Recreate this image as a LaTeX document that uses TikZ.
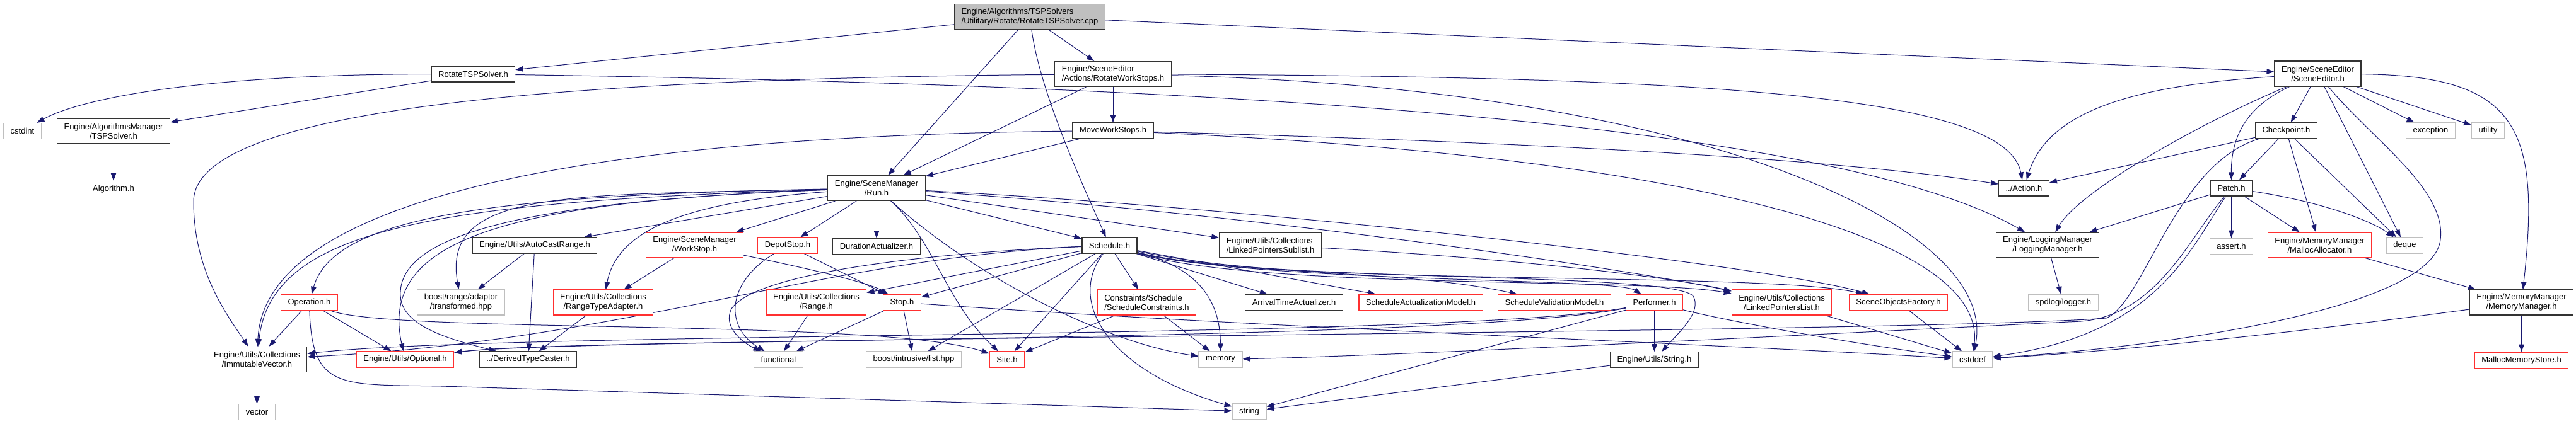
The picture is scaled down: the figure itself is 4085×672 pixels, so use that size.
\documentclass[tikz,border=0pt]{standalone}
\usepackage{fontspec}
\usepackage{xcolor}
\usepackage{tikz}
\usetikzlibrary{arrows.meta,positioning,backgrounds}
\newfontfamily\dxsans{Liberation Sans}
\newcommand{\dxfont}{\dxsans\fontsize{13pt}{15pt}\selectfont}
\definecolor{incl}{HTML}{191970}
\definecolor{nline}{HTML}{333333}
\definecolor{trunc}{HTML}{FF3030}
\definecolor{ext}{HTML}{BFBFBF}
\definecolor{rootf}{HTML}{BFBFBF}
\tikzset{
  hfile/.style={draw=nline, line width=1.2pt, fill=white, rectangle,
                minimum height=25pt, inner xsep=11pt, inner ysep=3pt,
                align=center, font=\dxfont},
  hred/.style={hfile, draw=trunc},
  hsys/.style={hfile, draw=ext},
  hroot/.style={hfile, fill=rootf},
  two/.style={minimum height=40pt},
  lft/.style={align=left},
  inc/.style={-{Triangle[length=12pt,width=8.5pt]}, line width=1pt, draw=incl},
}
\begin{document}
\begin{tikzpicture}[x=1pt, y=-1pt, node distance=58pt]
\useasboundingbox (0,0) rectangle (4085,672);

% ---- the .cpp ----
\node[hroot, two, lft] (root) at (1633,26.5) {Engine/Algorithms/TSPSolvers\\/Utilitary/Rotate/RotateTSPSolver.cpp};

% ---- row 1 ----
\node[hfile] (rtsp) at (750.5,117.5) {RotateTSPSolver.h};
\node[hfile, two, lft] (rws) at (1765,117.5) {Engine/SceneEditor\\/Actions/RotateWorkStops.h};
\node[hfile, two] (sed) at (3675.5,117) {Engine/SceneEditor\\/SceneEditor.h};

% ---- row 2 ----
\node[hsys] (cstdint) at (35.5,208) {cstdint};
\node[hfile, two] (tsp) at (180,208) {Engine/AlgorithmsManager\\/TSPSolver.h};
\node[hfile] (mws) at (1765,207.5) {MoveWorkStops.h};
\node[hfile] (chk) at (3625.5,207.5) {Checkpoint.h};
\node[hsys] (exc) at (3854.5,207.5) {exception};
\node[hsys] (util) at (3945.5,207.5) {utility};

% ---- row 3 ----
\node[hfile, below=58pt of tsp] (alg) {Algorithm.h};
\node[hfile, two] (run) at (1390,298.5) {Engine/SceneManager\\/Run.h};
\node[hfile] (act) at (3209.5,298.5) {../Action.h};
\node[hfile] (patch) at (3538.5,298.5) {Patch.h};

% ---- row 4 ----
\node[hfile] (acr) at (848,389.5) {Engine/Utils/AutoCastRange.h};
\node[hred, two] (wst) at (1101.5,389) {Engine/SceneManager\\/WorkStop.h};
\node[hred] (dep) at (1249,389.5) {DepotStop.h};
\node[hfile, below=59pt of run] (dur) {DurationActualizer.h};
\node[hfile] (sch) at (1759.5,389.5) {Schedule.h};
\node[hfile, two, lft] (lps) at (2014.5,389) {Engine/Utils/Collections\\/LinkedPointersSublist.h};
\node[hfile, two] (log) at (3247,389) {Engine/LoggingManager\\/LoggingManager.h};
\node[hsys, below=66pt of patch] (asrt) {assert.h};
\node[hred, two] (mal) at (3678.5,389) {Engine/MemoryManager\\/MallocAllocator.h};
\node[hsys] (deq) at (3813.5,389.5) {deque};

% ---- row 5 ----
\node[hred] (op) at (490.5,480) {Operation.h};
\node[hsys, two] (trf) at (731,480) {boost/range/adaptor\\/transformed.hpp};
\node[hred, two] (rta) at (956.5,480) {Engine/Utils/Collections\\/RangeTypeAdapter.h};
\node[hred, two] (rng) at (1294.5,480) {Engine/Utils/Collections\\/Range.h};
\node[hred] (stp) at (1430.5,480) {Stop.h};
\node[hred, two, lft] (scn) at (1818.5,480) {Constraints/Schedule\\/ScheduleConstraints.h};
\node[hfile] (arr) at (2052,480) {ArrivalTimeActualizer.h};
\node[hred] (sam) at (2253,480) {ScheduleActualizationModel.h};
\node[hred] (svm) at (2465,480) {ScheduleValidationModel.h};
\node[hred] (perf) at (2623.5,480) {Performer.h};
\node[hred, two] (lpl) at (2825.5,480) {Engine/Utils/Collections\\/LinkedPointersList.h};
\node[hred] (sof) at (3010.5,480) {SceneObjectsFactory.h};
\node[hsys] (spd) at (3272,480) {spdlog/logger.h};
\node[hfile, two] (mm) at (3998.5,480) {Engine/MemoryManager\\/MemoryManager.h};

% ---- row 6 ----
\node[hfile, two] (imv) at (407.5,570.5) {Engine/Utils/Collections\\/ImmutableVector.h};
\node[hred] (opt) at (642.5,570.5) {Engine/Utils/Optional.h};
\node[hfile] (dtc) at (837.5,570.5) {../DerivedTypeCaster.h};
\node[hsys] (fun) at (1234.5,570.5) {functional};
\node[hsys] (bil) at (1449,570.5) {boost/intrusive/list.hpp};
\node[hred] (site) at (1597,570.5) {Site.h};
\node[hsys] (mem) at (1935.5,570.5) {memory};
\node[hfile, below=65pt of perf] (str) {Engine/Utils/String.h};
\node[hsys] (cdef) at (3128,570.5) {cstddef};
\node[hred, below=58pt of mm] (mms) {MallocMemoryStore.h};

% ---- row 7 ----
\node[hsys, below=50pt of imv] (vec) {vector};
\node[hsys] (strg) at (1981,653) {string};

\begin{scope}[on background layer]
% ---- edges: the .cpp ----
\draw[inc] (root) -- (rtsp);
\draw[inc] (root) -- (run);
\draw[inc] (root) -- (rws);
\draw[inc] (root) .. controls (1650,150) and (1720,300) .. (sch);
\draw[inc] (root) -- (sed);

% ---- RotateTSPSolver.h ----
\draw[inc] (rtsp) .. controls (300,118) and (120,160) .. (cstdint);
\draw[inc] (rtsp) -- (tsp);
\draw[inc] (rtsp) .. controls (1900,135) and (2900,190) .. (log);
\draw[inc] (tsp) -- (alg);

% ---- RotateWorkStops.h, MoveWorkStops.h ----
\draw[inc] (rws) -- (mws);
\draw[inc] (rws) -- (run);
\draw[inc] (rws) .. controls (900,125) and (307,170) .. (307,320)
                 .. controls (307,430) and (360,500) .. (imv);
\draw[inc] (rws) .. controls (2700,122) and (3180,150) .. (act);
\draw[inc] (rws) .. controls (2700,140) and (3170,360) .. (cdef);
\draw[inc] (mws) -- (run);
\draw[inc] (mws) .. controls (2400,225) and (2900,250) .. (act);
\draw[inc] (mws) .. controls (2700,250) and (3150,380) .. (cdef);
\draw[inc] (mws) .. controls (1000,215) and (420,300) .. (imv);

% ---- Run.h ----
\draw[inc] (run) .. controls (800,310) and (530,340) .. (op);
\draw[inc] (run) .. controls (700,320) and (430,360) .. (imv);
\draw[inc] (run) .. controls (800,320) and (600,380) .. (opt);
\draw[inc] (run) .. controls (900,310) and (700,300) .. (trf);
\draw[inc] (run) .. controls (800,320) and (630,380) .. (635,470)
                 .. controls (638,520) and (720,540) .. (dtc);
\draw[inc] (run) -- (acr);
\draw[inc] (run) .. controls (1100,320) and (980,360) .. (rta);
\draw[inc] (run) -- (wst);
\draw[inc] (run) -- (dep);
\draw[inc] (run) -- (dur);
\draw[inc] (run) -- (sch);
\draw[inc] (run) -- (lps);
\draw[inc] (run) .. controls (2000,330) and (2800,420) .. (sof);
\draw[inc] (run) .. controls (2000,340) and (2600,430) .. (lpl);
\draw[inc] (run) .. controls (1480,380) and (1500,480) .. (site);
\draw[inc] (run) .. controls (1560,450) and (1760,545) .. (mem);

% ---- Schedule.h ----
\draw[inc] (sch) .. controls (1500,400) and (1200,430) .. (1160,490)
                 .. controls (1145,520) and (1180,545) .. (fun);
\draw[inc] (sch) .. controls (1300,410) and (1000,540) .. (imv);
\draw[inc] (sch) -- (rng);
\draw[inc] (sch) -- (stp);
\draw[inc] (sch) -- (bil);
\draw[inc] (sch) -- (site);
\draw[inc] (sch) .. controls (1690,480) and (1760,590) .. (strg);
\draw[inc] (sch) -- (scn);
\draw[inc] (sch) .. controls (1880,420) and (1935,460) .. (mem);
\draw[inc] (sch) -- (arr);
\draw[inc] (sch) -- (sam);
\draw[inc] (sch) .. controls (2000,440) and (2230,428) .. (svm);
\draw[inc] (sch) .. controls (2000,450) and (2560,440) .. (perf);
\draw[inc] (sch) .. controls (2000,450) and (2650,430) .. (2685,470)
                 .. controls (2700,495) and (2660,530) .. (str);
\draw[inc] (sch) .. controls (2000,460) and (2600,440) .. (lpl);
\draw[inc] (sch) .. controls (2000,455) and (2800,430) .. (sof);

% ---- middle rows ----
\draw[inc] (op) -- (imv);
\draw[inc] (op) -- (opt);
\draw[inc] (op) .. controls (495,620) and (540,610) .. (700,613) -- (strg);
\draw[inc] (op) .. controls (620,530) and (1400,505) .. (site);
\draw[inc] (acr) -- (trf);
\draw[inc] (acr) -- (dtc);
\draw[inc] (wst) -- (rta);
\draw[inc] (wst) .. controls (1300,430) and (1380,450) .. (stp);
\draw[inc] (dep) -- (stp);
\draw[inc] (dep) .. controls (1150,450) and (1150,520) .. (fun);
\draw[inc] (rta) -- (dtc);
\draw[inc] (rng) -- (fun);
\draw[inc] (stp) -- (fun);
\draw[inc] (stp) -- (bil);
\draw[inc] (stp) .. controls (2000,520) and (2700,545) .. (cdef);
\draw[inc] (scn) -- (site);
\draw[inc] (scn) -- (mem);
\draw[inc] (lps) .. controls (2400,410) and (2650,440) .. (lpl);
\draw[inc] (perf) -- (str);
\draw[inc] (perf) -- (strg);
\draw[inc] (perf) .. controls (2720,505) and (2900,540) .. (cdef);
\draw[inc] (perf) .. controls (2300,540) and (800,525) .. (imv);
\draw[inc] (perf) .. controls (2300,545) and (900,535) .. (opt);
\draw[inc] (str) -- (strg);
\draw[inc] (lpl) -- (cdef);
\draw[inc] (sof) -- (cdef);
\draw[inc] (imv) -- (vec);

% ---- SceneEditor side ----
\draw[inc] (sed) .. controls (3400,135) and (3250,170) .. (act);
\draw[inc] (sed) .. controls (3500,190) and (3300,300) .. (log);
\draw[inc] (sed) .. controls (3560,170) and (3538,220) .. (patch);
\draw[inc] (sed) -- (chk);
\draw[inc] (sed) -- (deq);
\draw[inc] (sed) .. controls (3760,220) and (3880,300) .. (3870,380)
                 .. controls (3860,480) and (3500,545) .. (cdef);
\draw[inc] (sed) -- (exc);
\draw[inc] (sed) -- (util);
\draw[inc] (sed) .. controls (3990,120) and (4030,200) .. (mm);
\draw[inc] (chk) -- (act);
\draw[inc] (chk) -- (patch);
\draw[inc] (chk) -- (mal);
\draw[inc] (chk) -- (deq);
\draw[inc] (chk) .. controls (3450,260) and (3400,480) .. (3340,505)
                 .. controls (3000,530) and (900,535) .. (opt);
\draw[inc] (patch) -- (log);
\draw[inc] (patch) -- (asrt);
\draw[inc] (patch) -- (mal);
\draw[inc] (patch) .. controls (3680,320) and (3760,350) .. (deq);
\draw[inc] (patch) .. controls (3470,380) and (3420,500) .. (3300,510)
                   .. controls (2800,535) and (2200,565) .. (mem);
\draw[inc] (patch) .. controls (3470,400) and (3420,530) .. (cdef);
\draw[inc] (log) -- (spd);
\draw[inc] (mal) -- (mm);
\draw[inc] (mm) -- (mms);
\draw[inc] (mm) .. controls (3700,520) and (3400,555) .. (cdef);
\end{scope}

\end{tikzpicture}
\end{document}
